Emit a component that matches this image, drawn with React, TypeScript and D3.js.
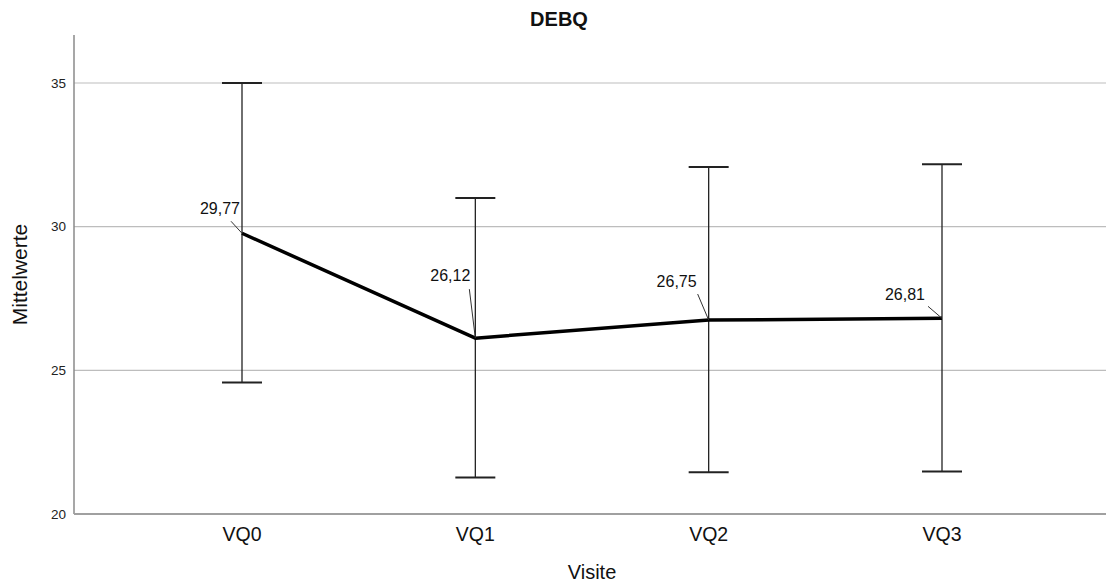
import React, { useRef, useEffect } from "react";
import * as d3 from "d3";

const visits: string[] = ["VQ0", "VQ1", "VQ2", "VQ3"];
const means: number[] = [29.77, 26.12, 26.75, 26.81];
const upper: number[] = [35.0, 31.0, 32.08, 32.17];
const lower: number[] = [24.58, 21.27, 21.45, 21.48];
const yTicks: number[] = [20, 25, 30, 35];

// label placement relative to the point: text end dx, baseline dy, leader start dx, dy
const labelOffsets: [number, number, number, number][] = [
  [-2, -19, -11, -12],
  [-5, -57, -6, -49],
  [-12, -33, -11, -26],
  [-17, -18, -14, -12],
];

const width = 1106;
const height = 585;
const margin = { top: 35, right: -4, bottom: 71, left: 74 };

const App: React.FC = () => {
  const ref = useRef<SVGSVGElement>(null);

  useEffect(() => {
    if (!ref.current) return;
    const svg = d3.select(ref.current);
    svg.selectAll("*").remove();

    const x = d3
      .scalePoint<string>()
      .domain(visits)
      .range([margin.left, width - margin.right])
      .padding(0.72);

    const y = d3
      .scaleLinear()
      .domain([20, 36.67])
      .range([height - margin.bottom, margin.top]);

    const font = "'Liberation Sans', Arial, sans-serif";
    const plotCenter = (margin.left + width - margin.right) / 2;

    // grid
    svg
      .append("g")
      .selectAll("line")
      .data(yTicks.slice(1))
      .enter()
      .append("line")
      .attr("x1", margin.left)
      .attr("x2", width)
      .attr("y1", (d) => y(d))
      .attr("y2", (d) => y(d))
      .attr("stroke", "#bdbdbd")
      .attr("stroke-width", 1.2);

    // axes
    svg
      .append("line")
      .attr("x1", margin.left)
      .attr("x2", margin.left)
      .attr("y1", margin.top)
      .attr("y2", y(20))
      .attr("stroke", "#8a8a8a")
      .attr("stroke-width", 1.5);
    svg
      .append("line")
      .attr("x1", margin.left)
      .attr("x2", width)
      .attr("y1", y(20))
      .attr("y2", y(20))
      .attr("stroke", "#a0a0a0")
      .attr("stroke-width", 2);

    svg
      .append("g")
      .selectAll("text")
      .data(yTicks)
      .enter()
      .append("text")
      .attr("x", margin.left - 8)
      .attr("y", (d) => y(d))
      .attr("dy", "0.35em")
      .attr("text-anchor", "end")
      .attr("font-family", font)
      .attr("font-size", 13.5)
      .attr("fill", "#222")
      .text((d) => d);

    svg
      .append("g")
      .selectAll("text")
      .data(visits)
      .enter()
      .append("text")
      .attr("x", (d) => x(d) as number)
      .attr("y", y(20) + 27)
      .attr("text-anchor", "middle")
      .attr("font-family", font)
      .attr("font-size", 19.5)
      .attr("fill", "#111")
      .text((d) => d);

    // titles
    svg
      .append("text")
      .attr("x", 559)
      .attr("y", 26)
      .attr("text-anchor", "middle")
      .attr("font-family", font)
      .attr("font-size", 20)
      .attr("font-weight", "bold")
      .attr("fill", "#111")
      .text("DEBQ");
    svg
      .append("text")
      .attr("x", plotCenter)
      .attr("y", 579)
      .attr("text-anchor", "middle")
      .attr("font-family", font)
      .attr("font-size", 20)
      .attr("fill", "#111")
      .text("Visite");
    svg
      .append("text")
      .attr("transform", `translate(27,${(margin.top + y(20)) / 2}) rotate(-90)`)
      .attr("text-anchor", "middle")
      .attr("font-family", font)
      .attr("font-size", 21)
      .attr("fill", "#111")
      .text("Mittelwerte");

    // error bars
    const bars = svg
      .append("g")
      .selectAll("g")
      .data(visits)
      .enter()
      .append("g")
      .attr("stroke", "#222")
      .attr("stroke-width", 1.3);
    bars
      .append("line")
      .attr("x1", (d) => x(d) as number)
      .attr("x2", (d) => x(d) as number)
      .attr("y1", (_d, i) => y(upper[i]))
      .attr("y2", (_d, i) => y(lower[i]));
    bars
      .append("line")
      .attr("x1", (d) => (x(d) as number) - 20)
      .attr("x2", (d) => (x(d) as number) + 20)
      .attr("y1", (_d, i) => y(upper[i]))
      .attr("y2", (_d, i) => y(upper[i]))
      .attr("stroke-width", 2);
    bars
      .append("line")
      .attr("x1", (d) => (x(d) as number) - 20)
      .attr("x2", (d) => (x(d) as number) + 20)
      .attr("y1", (_d, i) => y(lower[i]))
      .attr("y2", (_d, i) => y(lower[i]))
      .attr("stroke-width", 2);

    // mean line
    const line = d3
      .line<number>()
      .x((_d, i) => x(visits[i]) as number)
      .y((d) => y(d));
    svg
      .append("path")
      .datum(means)
      .attr("d", line)
      .attr("fill", "none")
      .attr("stroke", "#000")
      .attr("stroke-width", 3.5)
      .attr("stroke-linejoin", "round");

    // labels with leaders
    const fmt = (v: number) => v.toFixed(2).replace(".", ",");
    const labels = svg.append("g").selectAll("g").data(means).enter().append("g");
    labels
      .append("line")
      .attr("x1", (_d, i) => (x(visits[i]) as number) + labelOffsets[i][2])
      .attr("y1", (d, i) => y(d) + labelOffsets[i][3])
      .attr("x2", (_d, i) => x(visits[i]) as number)
      .attr("y2", (d) => y(d))
      .attr("stroke", "#333")
      .attr("stroke-width", 1);
    labels
      .append("text")
      .attr("x", (_d, i) => (x(visits[i]) as number) + labelOffsets[i][0])
      .attr("y", (d, i) => y(d) + labelOffsets[i][1])
      .attr("text-anchor", "end")
      .attr("font-family", font)
      .attr("font-size", 16)
      .attr("fill", "#111")
      .text((d) => fmt(d));
  }, []);

  return (
    <svg
      ref={ref}
      width={width}
      height={height}
      style={{ position: "absolute", left: 0, top: 0, background: "#fff" }}
    />
  );
};

export default App;
